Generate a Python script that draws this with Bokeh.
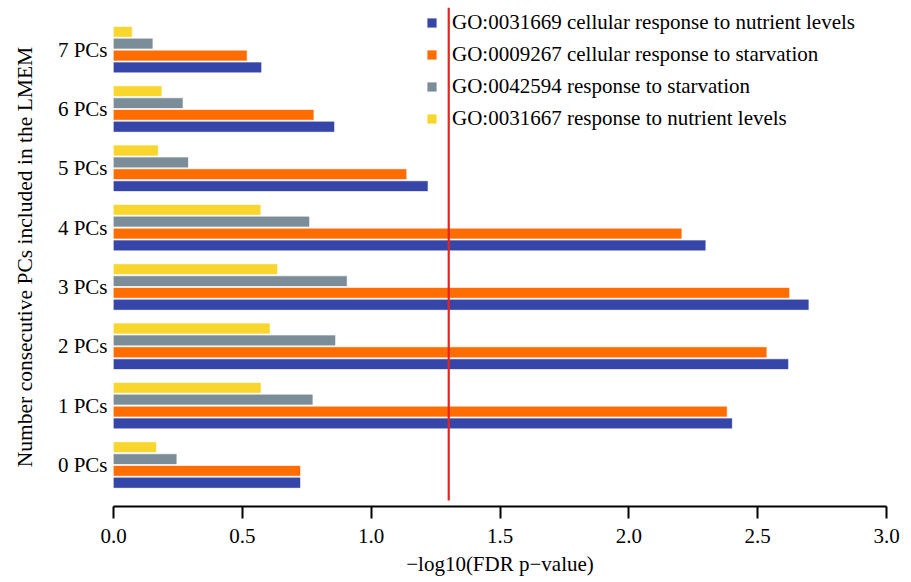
import math
from bokeh.plotting import figure
from bokeh.models import ColumnDataSource, FixedTicker, Legend, LegendItem, Range1d
from bokeh.embed import file_html
from bokeh.resources import INLINE

# ---------------- data ----------------
categories = ["0 PCs", "1 PCs", "2 PCs", "3 PCs", "4 PCs", "5 PCs", "6 PCs", "7 PCs"]
series_names = [
    "GO:0031669 cellular response to nutrient levels",
    "GO:0009267 cellular response to starvation",
    "GO:0042594 response to starvation",
    "GO:0031667 response to nutrient levels",
]
cellular_nutrient = [0.724, 2.40, 2.618, 2.697, 2.297, 1.219, 0.856, 0.573]
cellular_starvation = [0.724, 2.38, 2.534, 2.622, 2.204, 1.136, 0.776, 0.517]
response_starvation = [0.244, 0.772, 0.860, 0.905, 0.759, 0.289, 0.268, 0.151]
response_nutrient = [0.165, 0.571, 0.606, 0.635, 0.570, 0.172, 0.186, 0.071]
threshold = -math.log10(0.05)
x_ticks = [0.0, 0.5, 1.0, 1.5, 2.0, 2.5, 3.0]

series_values = [cellular_nutrient, cellular_starvation, response_starvation, response_nutrient]
colors = ["#3646a8", "#ff6d00", "#7b8d98", "#f9d62e"]
offsets = [-0.3, -0.1, 0.1, 0.3]
bar_h = 0.165

FONT = "Liberation Serif"
FS = "21px"

p = figure(width=911, height=582, output_backend="svg", toolbar_location=None,
           x_range=Range1d(0, 3.0), y_range=Range1d(-0.70, 7.71),
           min_border_left=113, min_border_right=25, min_border_top=7, min_border_bottom=76)
p.outline_line_color = None
p.grid.grid_line_color = None
p.background_fill_color = "white"
p.border_fill_color = "white"

renderers = []
for vals, col, off in zip(series_values, colors, offsets):
    src = ColumnDataSource(dict(y=[i + off for i in range(len(categories))], right=vals))
    r = p.hbar(y="y", right="right", left=0, height=bar_h, source=src,
               fill_color=col, line_color=col, line_alpha=0.35, line_width=1)
    renderers.append(r)

# significance threshold line
p.segment(x0=[threshold], y0=[-0.6], x1=[threshold], y1=[7.71],
          line_color="#e8231f", line_width=2.2)

# x axis
xa = p.xaxis[0]
xa.ticker = FixedTicker(ticks=x_ticks)
xa.major_label_overrides = {t: f"{t:.1f}" for t in x_ticks}
xa.minor_tick_line_color = None
xa.major_tick_out = 12
xa.major_tick_in = 0
xa.axis_line_width = 2
xa.major_tick_line_width = 2
xa.axis_line_color = "black"
xa.major_tick_line_color = "black"
xa.major_label_text_font = FONT
xa.major_label_text_font_size = FS
xa.major_label_text_color = "black"
xa.major_label_standoff = 10
xa.axis_label = "\u2212log10(FDR p\u2212value)"
xa.axis_label_text_font = FONT
xa.axis_label_text_font_size = FS
xa.axis_label_text_font_style = "normal"
xa.axis_label_text_color = "black"
xa.axis_label_standoff = 6

# y axis
ya = p.yaxis[0]
ya.ticker = FixedTicker(ticks=list(range(len(categories))))
ya.major_label_overrides = {i: c for i, c in enumerate(categories)}
ya.axis_line_color = None
ya.major_tick_line_color = None
ya.minor_tick_line_color = None
ya.major_label_text_font = FONT
ya.major_label_text_font_size = FS
ya.major_label_text_color = "black"
ya.major_label_standoff = 0
ya.axis_label = "Number consecutive PCs included in the LMEM"
ya.axis_label_text_font = FONT
ya.axis_label_text_font_size = "21.5px"
ya.axis_label_text_font_style = "normal"
ya.axis_label_text_color = "black"
ya.axis_label_standoff = 18

legend = Legend(
    items=[LegendItem(label=n, renderers=[r]) for n, r in zip(series_names, renderers)],
    location=(313, 375), orientation="vertical",
    border_line_color=None, background_fill_alpha=0.0,
    padding=0, margin=0, spacing=7, label_height=22,
    glyph_width=11, glyph_height=11, label_standoff=15,
    label_text_font=FONT, label_text_font_size=FS, label_text_color="black",
)
p.add_layout(legend)

open("out.html", "w").write(file_html(p, INLINE))
